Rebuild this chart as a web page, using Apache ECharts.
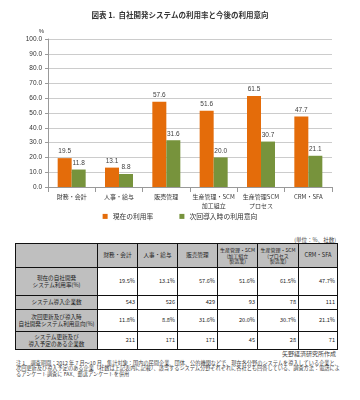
<!DOCTYPE html>
<html><head><meta charset="utf-8">
<script src="https://cdn.jsdelivr.net/npm/echarts@6/dist/echarts.min.js"></script>
<style>
html,body{margin:0;padding:0;background:#fff;}
#wrap{position:relative;width:360px;height:400px;overflow:hidden;font-family:"Noto Sans CJK JP",sans-serif;}
#chart{position:absolute;left:0;top:0;width:360px;height:230px;}
#tbl{position:absolute;left:15px;top:243px;border-collapse:collapse;table-layout:fixed;width:322px;font-size:5.6px;color:#222;}
#tbl td{border:1.5px solid #111;padding:0 1px;line-height:6.2px;white-space:nowrap;overflow:hidden;}
#tbl td.h{background:#bfbfbf;text-align:center;}
#tbl td.s{font-size:5px;line-height:5.8px;}
#tbl td.v{text-align:right;padding-right:2px;}
.unit{position:absolute;right:24px;top:236px;font-size:5.5px;color:#444;}
.src{position:absolute;right:24px;top:349px;font-size:6px;color:#444;}
.note{position:absolute;left:16px;top:360px;width:326px;font-size:5.2px;line-height:5.3px;color:#444;}
</style></head>
<body><div id="wrap"><div id="chart"></div>
<div class="unit">(単位：%、社数)</div>
<table id="tbl"></table>
<div class="src">矢野経済研究所作成</div>
<div class="note">注 1．調査期間：2012 年 7 月～10 月、集計対象：国内の民間企業、団体、公的機関などで、現在各分野のシステムを導入している企業と、次回更新及び導入予定のある企業（社数は上記表内に記載）、該当するシステム分野それぞれに各社とも回答している、調査方法：電話によるアンケート調査に FAX、郵送アンケートを併用</div>
</div>
<script>
const categories = ['財務・会計','人事・給与','販売管理','生産管理・SCM\n加工組立','生産管理SCM\nプロセス','CRM・SFA'];
const seriesNames = ['現在の利用率','次回導入時の利用意向'];
const currentRate = [19.5, 13.1, 57.6, 51.6, 61.5, 47.7];
const nextIntent = [11.8, 8.8, 31.6, 20.0, 30.7, 21.1];
const yTicks = [0,10,20,30,40,50,60,70,80,90,100];
const tableHeaders = ['財務・会計','人事・給与','販売管理','生産管理・SCM<br>(加工組立<br>製造業)','生産管理・SCM<br>(プロセス<br>製造業)','CRM・SFA'];
const rowLabels = ['現在の自社開発<br>システム利用率(%)','システム導入企業数','次回更新及び導入時<br>自社開発システム利用意向(%)','システム更新及び<br>導入予定のある企業数'];
const adoptCount = [543, 526, 429, 93, 78, 111];
const planCount = [211, 171, 171, 45, 28, 71];

const chart = echarts.init(document.getElementById('chart'), null, {renderer:'canvas'});
const lbl = {show:true, position:'top', fontSize:6.5, color:'#404040', distance:3, formatter:p=>p.value.toFixed(1)};
chart.setOption({
  animation:false,
  title:{text:'図表 1.  自社開発システムの利用率と今後の利用意向', left:'center', top:6, textStyle:{fontSize:7.5, fontWeight:'bold', color:'#333', fontFamily:'Noto Sans CJK JP'}},
  legend:{data:seriesNames, top:208, left:'center', icon:'rect', itemWidth:5, itemHeight:5, itemGap:26, textStyle:{fontSize:6.8, color:'#333', fontFamily:'Noto Sans CJK JP'}},
  grid:{left:48, right:28, top:39, bottom:43, containLabel:false},
  xAxis:{type:'category', data:categories, axisLine:{lineStyle:{color:'#999'}}, axisTick:{show:true, lineStyle:{color:'#999'}},
    axisLabel:{fontSize:6, color:'#333', margin:5, lineHeight:9, interval:0, fontFamily:'Noto Sans CJK JP'}},
  yAxis:{type:'value', min:yTicks[0], max:yTicks[yTicks.length-1], interval:10, name:'%', nameLocation:'end', nameGap:5,
    nameTextStyle:{fontSize:6, color:'#333', align:'right', padding:[0,4,0,0]},
    axisLine:{show:true, lineStyle:{color:'#999'}}, axisTick:{show:true, length:3, lineStyle:{color:'#999'}},
    axisLabel:{fontSize:6.5, color:'#333', margin:6, formatter:v=>v.toFixed(1)},
    splitLine:{lineStyle:{color:'#bfbfbf', width:0.8}}},
  series:[
    {name:seriesNames[0], type:'bar', data:currentRate, barWidth:14, barGap:'0%', itemStyle:{color:'#E46C0A'}, label:lbl},
    {name:seriesNames[1], type:'bar', data:nextIntent, barWidth:14, itemStyle:{color:'#77933C'}, label:lbl}
  ]
});

// table
const colW = [82,40,40,40,40,41,39];
const rowH = [24,28,14,22,18];
const fmtPct = v => v.toFixed(1)+'%';
const rows = [currentRate.map(fmtPct), adoptCount.map(String), nextIntent.map(fmtPct), planCount.map(String)];
let html = '<colgroup>' + colW.map(w=>'<col style="width:'+w+'px">').join('') + '</colgroup>';
html += '<tr style="height:'+rowH[0]+'px"><td class="h"></td>';
tableHeaders.forEach((h,i)=>{html += '<td class="h'+(h.indexOf('<br>')>=0?' s':'')+'">'+h+'</td>';});
html += '</tr>';
rows.forEach((r,ri)=>{
  html += '<tr style="height:'+rowH[ri+1]+'px"><td class="h">'+rowLabels[ri]+'</td>';
  r.forEach(v=>{html += '<td class="v">'+v+'</td>';});
  html += '</tr>';
});
document.getElementById('tbl').innerHTML = html;
</script></body></html>
